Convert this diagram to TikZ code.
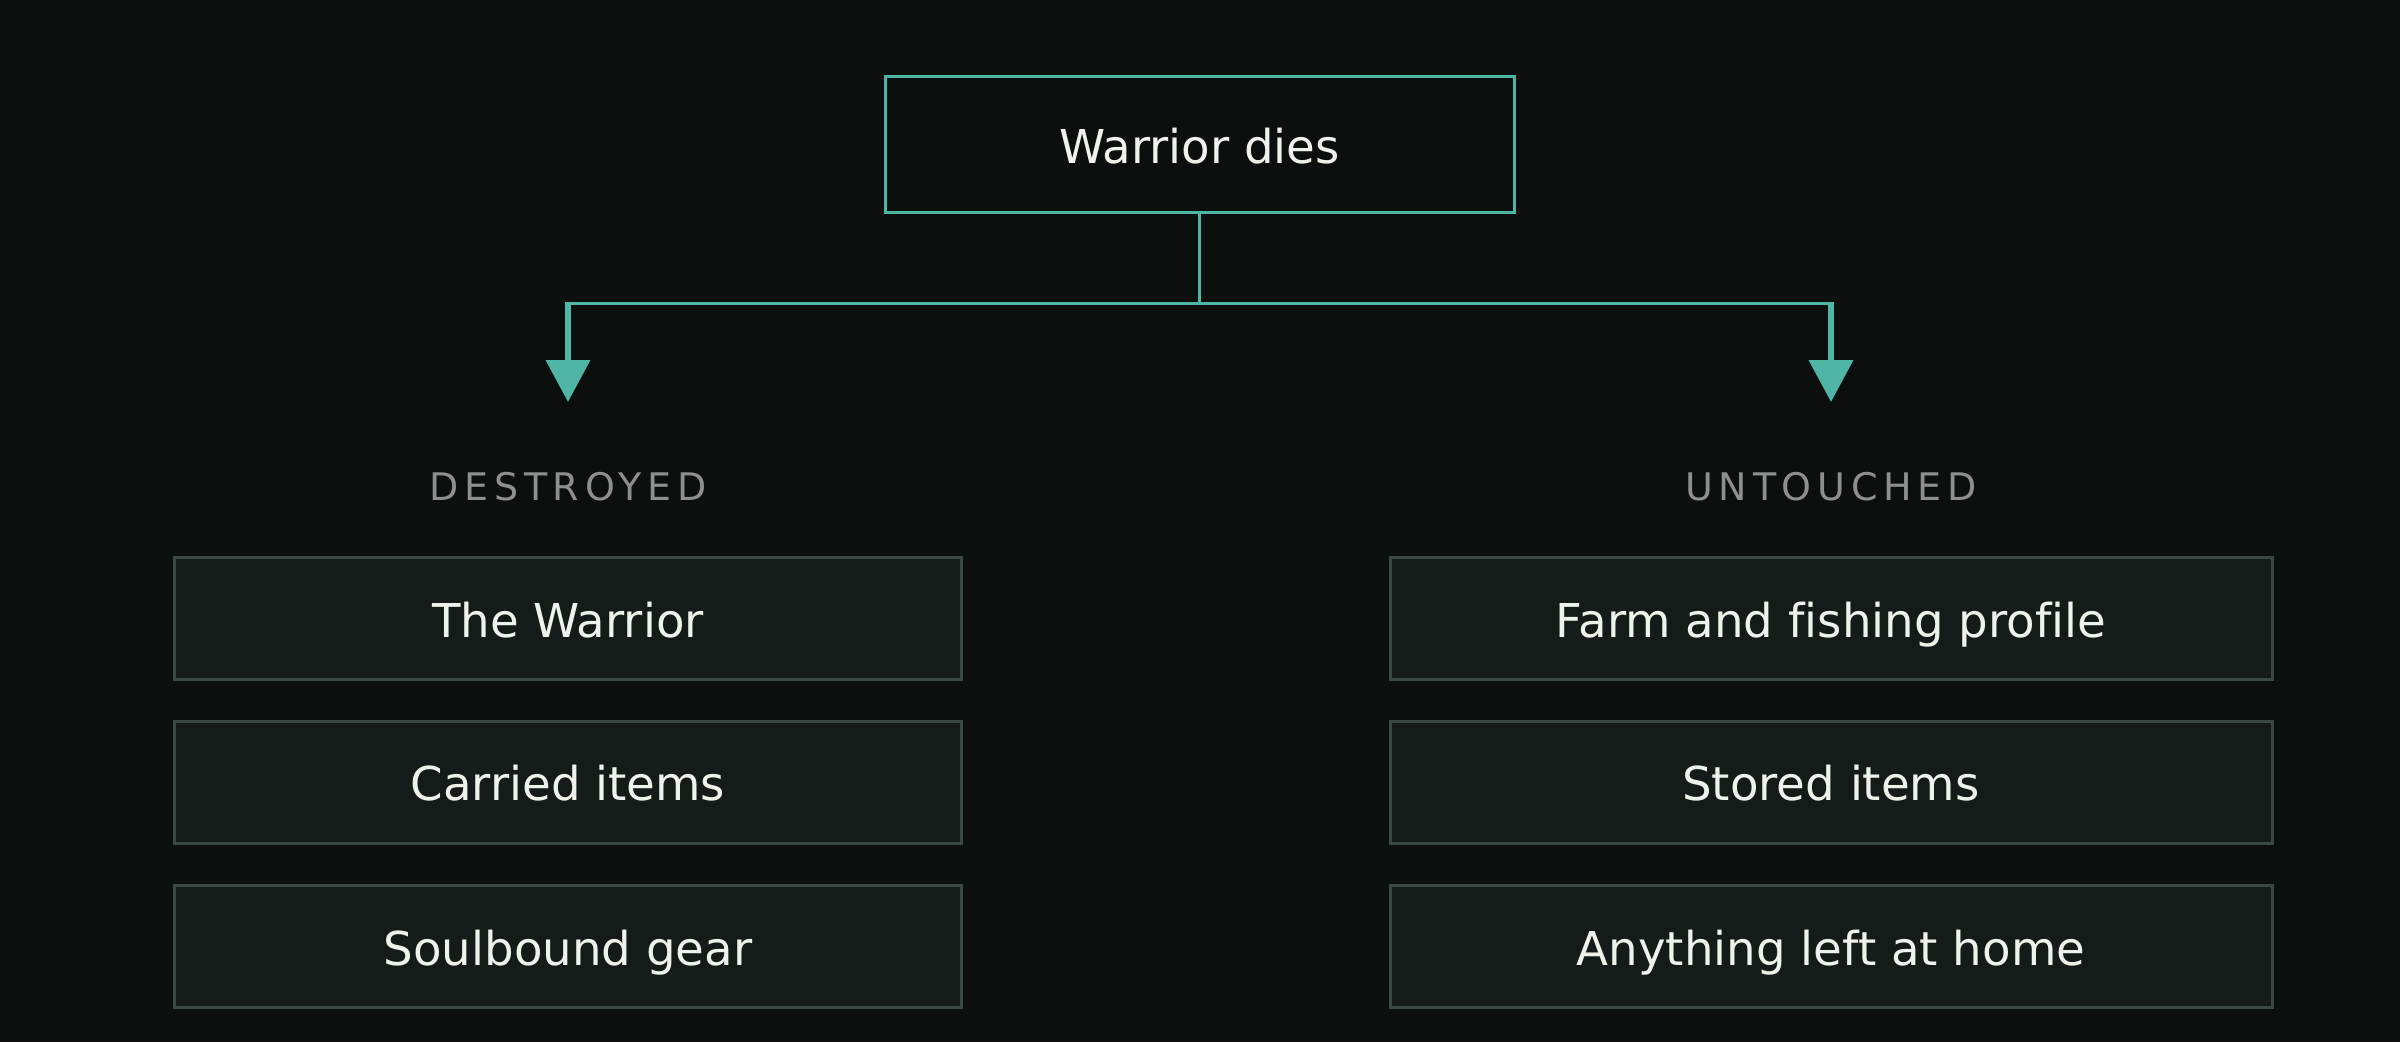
\documentclass[tikz,border=0pt]{standalone}
\usepackage{fontspec}
\setmainfont[Ligatures=NoCommon]{DejaVu Sans}
\newfontfamily\labelfont[LetterSpace=15]{DejaVu Sans}
\usetikzlibrary{arrows.meta}
\definecolor{bgc}{HTML}{0B0F0E}
\definecolor{teal}{HTML}{4FB5A5}
\definecolor{boxfill}{HTML}{151B19}
\definecolor{boxline}{HTML}{3A4843}
\definecolor{txt}{HTML}{EEF2EA}
\definecolor{lbl}{HTML}{8D918E}
\begin{document}
\begin{tikzpicture}[x=0.3pt,y=-0.3pt,
  topbox/.style={draw=teal, line width=0.9pt, fill=bgc, minimum width=188.7pt, minimum height=40.8pt,
    inner sep=0pt, text=txt, font=\fontsize{14pt}{16pt}\selectfont, text height=11.1pt, text depth=0pt},
  itembox/.style={draw=boxline, line width=0.9pt, fill=boxfill, minimum height=36.6pt,
    inner sep=0pt, text=txt, font=\fontsize{14pt}{16pt}\selectfont, text height=11.1pt, text depth=0pt},
  leftbox/.style={itembox, minimum width=236.1pt},
  rightbox/.style={itembox, minimum width=264.6pt},
  grouplabel/.style={text=lbl, font=\labelfont\fontsize{11.4pt}{13pt}\selectfont, inner sep=0pt, anchor=base},
  conn/.style={draw=teal, line width=0.9pt},
  arr/.style={draw=teal, line width=1.8pt, -{Triangle[width=13pt,length=12.6pt]}}
]
\fill[bgc] (0,0) rectangle (2400,1042);
\useasboundingbox (0,0) rectangle (2400,1042);

\node[topbox] (top) at (1199.5,144.5) {Warrior dies};

\coordinate (j) at (1199.5,303);
\coordinate (jl) at (568,303);
\coordinate (jr) at (1831,303);
\coordinate (al) at (568,402);
\coordinate (ar) at (1831,402);

\draw[conn] (top.south) -- (j);
\draw[conn] (jl) -- (jr);
\draw[arr] ([yshift=0.45pt]jl) -- (al);
\draw[arr] ([yshift=0.45pt]jr) -- (ar);

\node[grouplabel] (dl) at (568,500) {DESTROYED};
\node[grouplabel] (ul) at (1831,500) {UNTOUCHED};

\node[leftbox] (l1) at (568,618.5) {The Warrior};
\node[leftbox] (l2) at (568,782) {Carried items};
\node[leftbox] (l3) at (568,946.5) {Soulbound gear};

\node[rightbox] (r1) at (1831,618.5) {Farm and fishing profile};
\node[rightbox] (r2) at (1831,782) {Stored items};
\node[rightbox] (r3) at (1831,946.5) {Anything left at home};
\end{tikzpicture}
\end{document}
